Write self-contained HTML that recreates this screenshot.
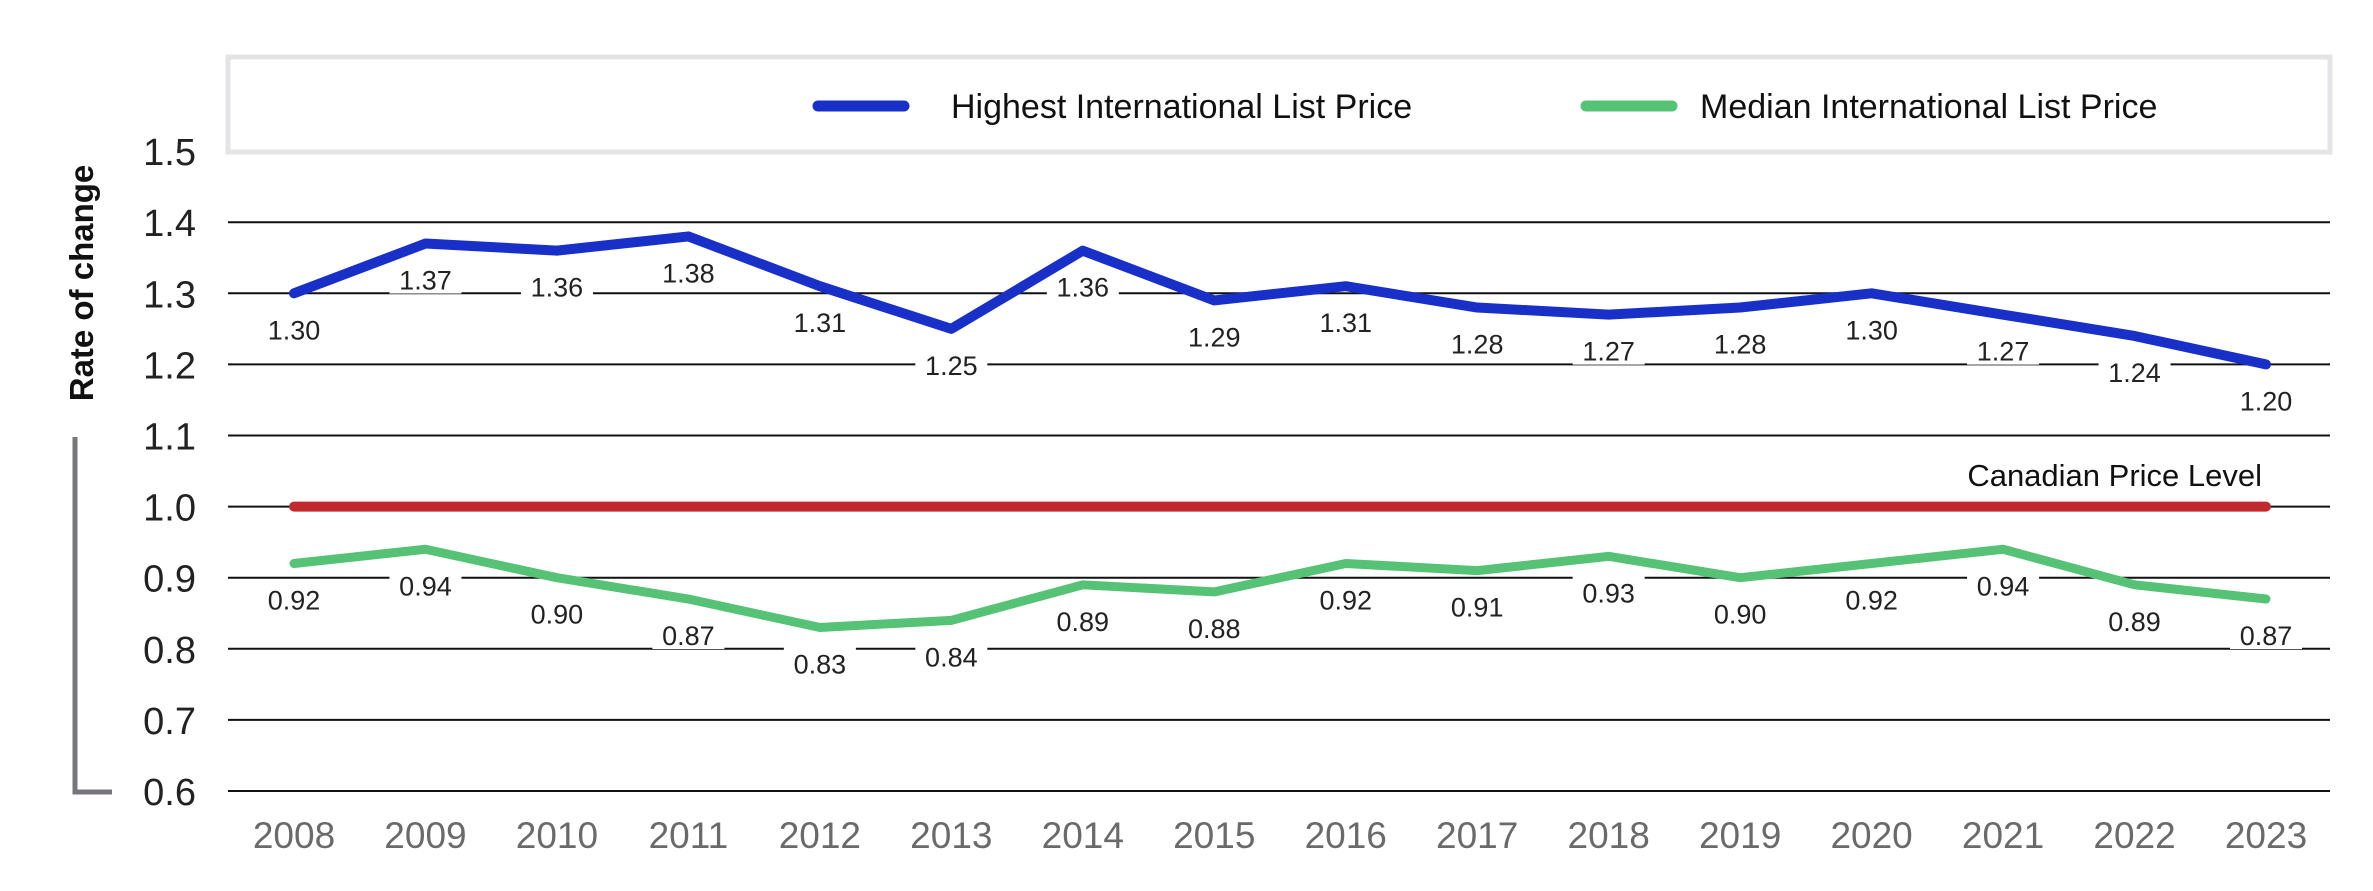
<!DOCTYPE html>
<html><head><meta charset="utf-8"><style>
html,body{margin:0;padding:0;background:#fff;}
svg{display:block;font-family:"Liberation Sans",sans-serif;}
</style></head><body>
<svg id="chart" width="2373" height="891" viewBox="0 0 2373 891" xmlns="http://www.w3.org/2000/svg">
<rect x="228" y="57" width="2102" height="95" fill="#fff" stroke="#e4e4e6" stroke-width="5"/>
<g>
<line x1="818" y1="106" x2="904" y2="106" stroke="#182fc8" stroke-width="11" stroke-linecap="round"/>
<text x="951" y="118" font-size="34" fill="#111">Highest International List Price</text>
</g>
<g>
<line x1="1586" y1="106" x2="1672" y2="106" stroke="#55c275" stroke-width="11" stroke-linecap="round"/>
<text x="1700" y="118" font-size="34" fill="#111">Median International List Price</text>
</g>
<g id="grid"></g>
<g id="yticks"></g>
<g id="xticks"></g>
<g id="labels"></g>
<g id="series"></g>
<text transform="translate(93,283) rotate(-90)" text-anchor="middle" font-size="33" font-weight="bold" fill="#111">Rate of change</text>
<path d="M75,437 L75,792 L112,792" fill="none" stroke="#77777b" stroke-width="5"/>
<text x="2262" y="486" text-anchor="end" font-size="31" fill="#111">Canadian Price Level</text>
</svg>
<script>
const years = [2008,2009,2010,2011,2012,2013,2014,2015,2016,2017,2018,2019,2020,2021,2022,2023];
const highest = [1.30,1.37,1.36,1.38,1.31,1.25,1.36,1.29,1.31,1.28,1.27,1.28,1.30,1.27,1.24,1.20];
const median = [0.92,0.94,0.90,0.87,0.83,0.84,0.89,0.88,0.92,0.91,0.93,0.90,0.92,0.94,0.89,0.87];
const canadian = [1,1,1,1,1,1,1,1,1,1,1,1,1,1,1,1];
const yTicks = [0.6,0.7,0.8,0.9,1.0,1.1,1.2,1.3,1.4,1.5];

const NS="http://www.w3.org/2000/svg";
const x0=294, x1=2266, yBase=791, yStep=71.1;
function xs(i){return x0+(x1-x0)*i/(years.length-1);}
function ys(v){return yBase-(v-0.6)/0.1*yStep;}
function mk(tag,attrs,parent){const e=document.createElementNS(NS,tag);for(const k in attrs)e.setAttribute(k,attrs[k]);parent.appendChild(e);return e;}
const grid=document.getElementById('grid'), yt=document.getElementById('yticks'), xt=document.getElementById('xticks'), ser=document.getElementById('series'), lab=document.getElementById('labels');
yTicks.forEach(v=>{
  if(v<1.45){
    const l=mk('line',{x1:228,x2:2330,y1:ys(v),y2:ys(v),stroke:'#111','stroke-width':2},grid);
    
    
  }
  const t=mk('text',{x:196,y:ys(v)+14,'text-anchor':'end','font-size':38,fill:'#222'},yt);
  t.textContent=v.toFixed(1);
  
  
});
years.forEach((yr,i)=>{
  const t=mk('text',{x:xs(i),y:848,'text-anchor':'middle','font-size':37,fill:'#6a6a6a'},xt);
  t.textContent=yr;
  
  
});
function line(data,color,w,name){
  const d=data.map((v,i)=>(i?'L':'M')+xs(i)+','+ys(v)).join(' ');
  const p=mk('path',{d:d,fill:'none',stroke:color,'stroke-width':w,'stroke-linejoin':'round','stroke-linecap':'round'},ser);
  
  
}
line(canadian,'#c0292d',10,'canadian-price-line');
line(highest,'#182fc8',10,'highest-price-line');
line(median,'#55c275',9,'median-price-line');
function labels(data,name){
  data.forEach((v,i)=>{
    const cx=xs(i), cy=ys(v)+36;
    const r=mk('rect',{x:cx-36,y:cy-18,width:72,height:32,fill:'#fff'},lab);
    
    
    const t=mk('text',{x:cx,y:cy+10,'text-anchor':'middle','font-size':27,fill:'#222'},lab);
    t.textContent=v.toFixed(2);
    
    
  });
}
labels(highest,'highest');
labels(median,'median');
</script>
</body></html>
